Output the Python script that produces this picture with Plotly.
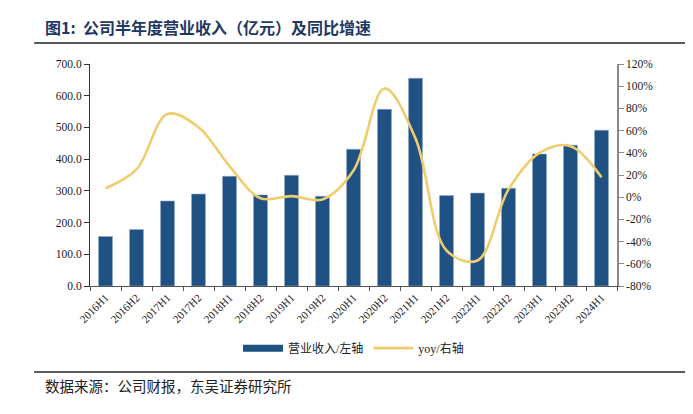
import plotly.graph_objects as go

categories = ["2016H1", "2016H2", "2017H1", "2017H2", "2018H1", "2018H2", "2019H1", "2019H2",
              "2020H1", "2020H2", "2021H1", "2021H2", "2022H1", "2022H2", "2023H1", "2023H2", "2024H1"]
revenue = [156, 178, 268, 290, 346, 287, 349, 283, 431, 557, 655, 285, 293, 308, 416, 444, 491]
yoy = [8, 25, 75, 63, 28, -1, 1, -2, 24, 98, 53, -48, -57, 7, 40, 46, 18]

left_ticks = [0, 100, 200, 300, 400, 500, 600, 700]
right_ticks = [-80, -60, -40, -20, 0, 20, 40, 60, 80, 100, 120]
right_labels = [f"{v}%" for v in right_ticks]

serif = "Liberation Serif, Noto Sans CJK SC"
cjk = "Noto Sans CJK SC"
bar_color = "#1F5183"
line_color = "#EFCD6E"

fig = go.Figure()
fig.add_trace(go.Bar(
    x=categories, y=revenue, name="营业收入/左轴", showlegend=False,
    marker=dict(color=bar_color, line=dict(color="#8FA8C4", width=0.6)),
    yaxis="y",
))
fig.add_trace(go.Scatter(
    x=categories, y=yoy, name="yoy/右轴", mode="lines", showlegend=False,
    line=dict(color=line_color, width=2.6, shape="spline", smoothing=1.0),
    yaxis="y2",
))
# legend entries
fig.add_trace(go.Scatter(x=[None], y=[None], mode="lines", name="营业收入/左轴",
                         line=dict(color=bar_color, width=7), yaxis="y"))
fig.add_trace(go.Scatter(x=[None], y=[None], mode="lines", name="yoy/右轴",
                         line=dict(color=line_color, width=2.6), yaxis="y2"))

fig.update_layout(
    width=685, height=406,
    margin=dict(l=82, r=76, t=56, b=128),
    paper_bgcolor="white", plot_bgcolor="white",
    bargap=0.55,
    showlegend=True,
    legend=dict(orientation="h", x=0.5, xanchor="center", y=-0.28, yanchor="middle",
                font=dict(family=serif, size=12, color="#222"), traceorder="normal",
                itemwidth=40),
    xaxis=dict(type="category", tickangle=-45, tickson="boundaries",
               showline=True, linecolor="#555", linewidth=1, ticks="outside", ticklen=4,
               tickcolor="#555", tickfont=dict(family=serif, size=11, color="#222"),
               showgrid=False),
    yaxis=dict(range=[0, 700], tickvals=left_ticks, tickformat=".1f",
               showline=True, linecolor="#333", linewidth=1, ticks="outside", ticklen=5,
               tickcolor="#333", tickfont=dict(family=serif, size=11.5, color="#222"),
               showgrid=False, zeroline=False),
    yaxis2=dict(range=[-80, 120], tickvals=right_ticks, ticktext=right_labels,
                overlaying="y", side="right",
                showline=True, linecolor="#888", linewidth=1.5, ticks="outside", ticklen=5,
                tickcolor="#888", tickfont=dict(family=serif, size=11.5, color="#222"),
                showgrid=False, zeroline=False),
    annotations=[
        dict(text="<b>图1:  公司半年度营业收入（亿元）及同比增速</b>", xref="paper", yref="paper",
             x=-0.09, y=1.165, xanchor="left", yanchor="middle", showarrow=False,
             font=dict(family=cjk, size=16, color="#1F3864")),
        dict(text="数据来源：公司财报，东吴证券研究所", xref="paper", yref="paper",
             x=-0.09, y=-0.448, xanchor="left", yanchor="middle", showarrow=False,
             font=dict(family=cjk, size=14.5, color="#222")),
    ],
    shapes=[
        dict(type="line", xref="paper", yref="paper", x0=-0.106, x1=1.15, y0=1.095, y1=1.095,
             line=dict(color="#222", width=1.5)),
        dict(type="line", xref="paper", yref="paper", x0=-0.106, x1=1.15, y0=-0.387, y1=-0.387,
             line=dict(color="#222", width=1.5)),
    ],
)

fig.write_html("out.html")
